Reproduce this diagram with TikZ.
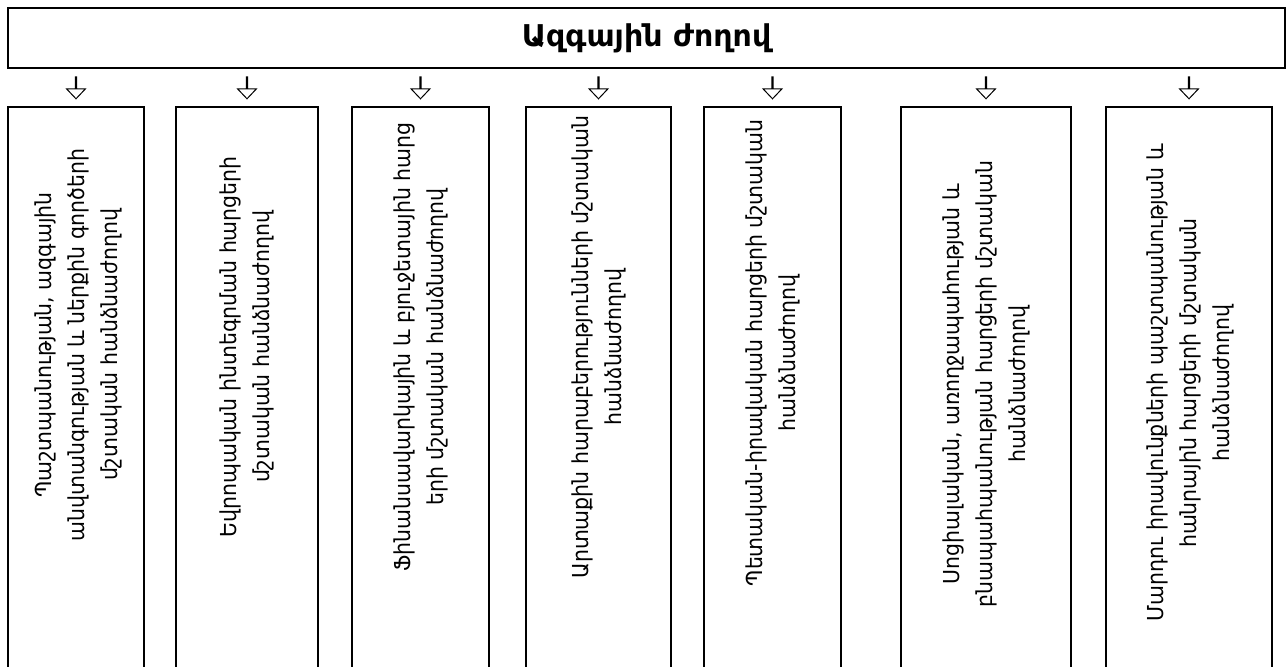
\documentclass[tikz,border=0pt]{standalone}
\usepackage{fontspec}
\usepackage{tikz}
\usetikzlibrary{positioning, shapes.arrows}
\newfontfamily\armfont[FakeStretch=0.93]{DejaVu Sans}
\newfontfamily\armtitle{DejaVu Sans}

\begin{document}
\begin{tikzpicture}[
      x=0.5pt, y=-0.5pt,
      assembly/.style={draw, line width=0.8pt, minimum width=638.5pt,
                       minimum height=30pt, inner sep=0pt,
                       font=\armtitle\bfseries\fontsize{15}{18}\selectfont},
      committee/.style={draw, line width=0.8pt, anchor=north,
                        minimum height=300pt, inner sep=0pt},
      cname/.style={rotate=90, align=center, inner sep=0pt,
                    font=\armfont\fontsize{11}{16.5}\selectfont},
      downarrow/.style={single arrow, draw, fill=white, line width=0.5pt,
                        rotate=-90, inner sep=0pt, minimum width=9.5pt,
                        minimum height=11pt, single arrow head extend=3pt,
                        single arrow tip angle=87},
    ]
    \path[use as bounding box] (0,0) rectangle (1287,666);
    \clip (0,0) rectangle (1287,666);

    \node[assembly] (nation) at (646.5,38) {Ազգային ժողով};

    \node[committee, minimum width=68pt] (defence) at (76,106) {};
    \node[committee, minimum width=71pt] (europe)  at (247,106) {};
    \node[committee, minimum width=68.5pt] (finance) at (420.5,106) {};
    \node[committee, minimum width=72.5pt] (foreign) at (598.5,106) {};
    \node[committee, minimum width=68.5pt] (legal)   at (772.5,106) {};
    \node[committee, minimum width=85pt] (social)  at (986,106) {};
    \node[committee, minimum width=83pt] (rights)  at (1189,106) {};

    \node[cname] (defence-name) at (78,345)
      {Պաշտպանության, ազգային\\անվտանգության և ներքին գործերի\\մշտական հանձնաժողով};
    \node[cname] (europe-name) at (247,347)
      {Եվրոպական ինտեգրման հարցերի\\մշտական հանձնաժողով};
    \node[cname] (finance-name) at (420.5,347)
      {Ֆինանսավարկային և բյուջետային հարց\\երի մշտական հանձնաժողով};
    \node[cname] (foreign-name) at (598.5,347)
      {Արտաքին հարաբերությունների մշտական\\հանձնաժողով};
    \node[cname] (legal-name) at (772.5,353)
      {Պետական-իրավական հարցերի մշտական\\հանձնաժողով};
    \node[cname] (social-name) at (986,384)
      {Սոցիալական, առողջապահության և\\բնապահպանության հարցերի մշտական\\հանձնաժողով};
    \node[cname] (rights-name) at (1190,383)
      {Մարդու իրավունքների պաշտպանության և\\հանրային հարցերի մշտական\\հանձնաժողով};

    \path (nation.south -| defence.north) -- node[downarrow] {} (defence.north);
    \path (nation.south -| europe.north)  -- node[downarrow] {} (europe.north);
    \path (nation.south -| finance.north) -- node[downarrow] {} (finance.north);
    \path (nation.south -| foreign.north) -- node[downarrow] {} (foreign.north);
    \path (nation.south -| legal.north)   -- node[downarrow] {} (legal.north);
    \path (nation.south -| social.north)  -- node[downarrow] {} (social.north);
    \path (nation.south -| rights.north)  -- node[downarrow] {} (rights.north);
  \end{tikzpicture}
\end{document}
